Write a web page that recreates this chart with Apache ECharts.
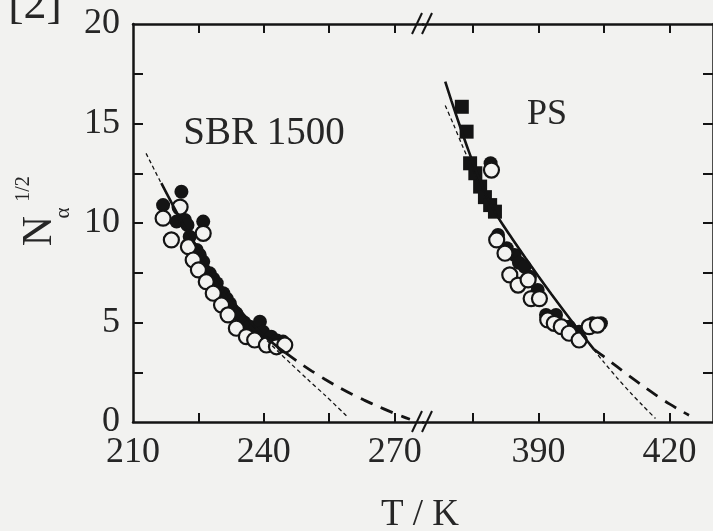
<!DOCTYPE html>
<html>
<head>
<meta charset="utf-8">
<script src="https://cdn.jsdelivr.net/npm/echarts@6/dist/echarts.min.js"></script>
<style>
  html, body { margin: 0; padding: 0; background: #f2f2f0; }
  #chart { width: 713px; height: 531px; }
</style>
</head>
<body>
<div id="chart"></div>
<script>
// ---- Data: T in K, N_alpha^(1/2) ----

// SBR 1500, open circles
const sbrOpenT = [216.9, 220.8, 226.1, 218.8, 222.7, 223.8, 225.0, 226.8, 228.4, 230.3, 231.8, 233.7, 236.0, 237.9, 240.6, 242.9, 244.8];
const sbrOpenN = [10.24, 10.8, 9.48, 9.15, 8.81, 8.14, 7.64, 7.05, 6.47, 5.88, 5.38, 4.71, 4.29, 4.12, 3.87, 3.78, 3.87];
// SBR 1500, filled circles
const sbrFilledT = [221.1, 216.9, 226.1, 220.0, 221.9, 222.5, 223.0, 224.6, 225.3, 226.1, 227.6, 228.4, 229.2, 230.7, 231.5, 232.2, 233.7, 234.9, 235.5, 236.8, 238.0, 239.1, 239.8, 241.7, 243.0, 244.4];
const sbrFilledN = [11.57, 10.9, 10.07, 10.07, 10.15, 9.9, 9.31, 8.64, 8.4, 8.06, 7.47, 7.2, 6.97, 6.47, 6.2, 5.96, 5.46, 5.04, 5.0, 4.79, 4.7, 5.04, 4.54, 4.29, 4.1, 4.04];

// PS, filled squares
const psSquareT = [372.4, 373.5, 374.3, 375.5, 376.6, 377.7, 378.9, 380.0];
const psSquareN = [15.84, 14.59, 13.0, 12.5, 11.83, 11.3, 10.9, 10.57];
// PS, open circles
const psOpenT = [379.2, 380.4, 382.3, 383.4, 385.3, 387.6, 388.3, 390.2, 392.1, 393.6, 395.2, 397.0, 399.3, 401.6, 403.5];
const psOpenN = [12.66, 9.15, 8.48, 7.39, 6.88, 7.14, 6.2, 6.2, 5.13, 4.96, 4.79, 4.46, 4.12, 4.79, 4.87];
// PS, filled circles
const psFilledT = [379.0, 380.7, 382.7, 384.5, 385.5, 386.8, 388.0, 389.8, 391.7, 394.0, 397.0, 399.3, 402.4, 404.3];
const psFilledN = [13.0, 9.4, 8.73, 8.39, 8.0, 7.8, 7.3, 6.63, 5.38, 5.38, 4.79, 4.54, 4.96, 4.96];

// Fitted curves (solid), thin short-dashed and long-dashed extrapolations
const sbrFitT = [216.5, 219, 222, 225, 228, 231, 234, 237, 240, 243, 245];
const sbrFitN = [12.0, 10.95, 9.75, 8.62, 7.58, 6.62, 5.76, 5.0, 4.35, 3.8, 3.47];
const sbrThinT = [213, 216, 219, 222, 225, 228, 231, 234, 237, 240, 243, 246, 250, 254, 259];
const sbrThinN = [13.5, 12.2, 10.95, 9.75, 8.62, 7.58, 6.62, 5.76, 4.98, 4.26, 3.6, 2.97, 2.15, 1.35, 0.3];
const sbrLongT = [245, 248, 251, 254, 257, 260, 263, 266, 269, 272, 273.5];
const sbrLongN = [3.47, 3.0, 2.56, 2.15, 1.77, 1.42, 1.1, 0.8, 0.52, 0.26, 0.14];

const psFitT = [368.6, 370, 372, 374, 376, 378, 380, 382, 384, 387, 390, 393, 396, 399, 402.7];
const psFitN = [17.1, 16.15, 14.85, 13.6, 12.45, 11.4, 10.55, 9.85, 9.2, 8.24, 7.31, 6.41, 5.53, 4.67, 3.65];
const psThinT = [368.6, 370.5, 372.4, 374.5, 376.5, 378.5, 380.5, 382, 384, 387, 390, 393, 396, 399, 402, 405, 408, 411, 414, 416.8];
const psThinN = [15.9, 14.95, 13.95, 12.9, 11.95, 11.1, 10.35, 9.82, 9.2, 8.24, 7.31, 6.41, 5.53, 4.67, 3.82, 3.0, 2.22, 1.49, 0.8, 0.18];
const psLongT = [402.7, 405, 408, 411, 414, 417, 420, 423, 424.5];
const psLongN = [3.65, 3.28, 2.78, 2.28, 1.8, 1.34, 0.91, 0.52, 0.34];

// Axis ranges and tick positions (broken temperature axis)
const leftRange = [210, 276.5];
const rightRange = [363.5, 430];
const leftTicks = [225, 240, 255, 270];
const leftLabels = [210, 240, 270];
const rightTicks = [375, 390, 405, 420];
const rightLabels = [390, 420];
const yRange = [0, 20];
const yTicks = [2.5, 5, 7.5, 10, 12.5, 15, 17.5];
const yLabels = [0, 5, 10, 15, 20];

// ---- Layout / style ----
const ink = '#141414';
const textInk = '#262626';
const paper = '#f2f2f0';
const serif = '"Liberation Serif", "DejaVu Serif", serif';
const plotTop = 24, plotBottom = 422;
const leftX0 = 133, breakX = 423, rightX1 = 715;

const pairs = (xs, ys) => xs.map((x, i) => [x, ys[i]]);

function xAxisDef(gridIndex, range, ticks, labels, top) {
  return {
    type: 'value', gridIndex, min: range[0], max: range[1],
    position: top ? 'top' : 'bottom',
    axisLine: { show: true, onZero: false, lineStyle: { color: ink, width: 2.5 } },
    axisTick: { show: true, inside: true, length: 9, customValues: ticks, lineStyle: { color: ink, width: 2 } },
    axisLabel: top ? { show: false } : {
      show: true, customValues: labels, color: textInk, fontFamily: serif, fontSize: 36, margin: 13
    },
    splitLine: { show: false }
  };
}

function yAxisDef(gridIndex, side, visible, withLabels) {
  return {
    type: 'value', gridIndex, min: yRange[0], max: yRange[1], position: side,
    axisLine: { show: visible, onZero: false, lineStyle: { color: ink, width: 2.5 } },
    axisTick: { show: visible, inside: true, length: 10, customValues: yTicks, lineStyle: { color: ink, width: 2 } },
    axisLabel: withLabels ? {
      show: true, customValues: yLabels, color: textInk, fontFamily: serif, fontSize: 36, margin: 13
    } : { show: false },
    splitLine: { show: false }
  };
}

function scatter(name, xi, yi, xs, ys, symbol, size, filled, z) {
  return {
    name, type: 'scatter', xAxisIndex: xi, yAxisIndex: yi,
    data: pairs(xs, ys), symbol, symbolSize: size, z,
    itemStyle: filled ? { color: ink, opacity: 1 }
                      : { color: paper, borderColor: ink, borderWidth: 2.2, opacity: 1 },
    emphasis: { disabled: true }
  };
}

function curve(name, xi, yi, xs, ys, width, dash) {
  return {
    name, type: 'line', xAxisIndex: xi, yAxisIndex: yi,
    data: pairs(xs, ys), smooth: 0.3, showSymbol: false, z: 10,
    lineStyle: { color: ink, width, type: dash || 'solid' },
    emphasis: { disabled: true }
  };
}

const chart = echarts.init(document.getElementById('chart'), null, { renderer: 'canvas' });

const breakMark = (y) => [
  { type: 'line', shape: { x1: breakX - 11, y1: y + 10, x2: breakX - 1, y2: y - 11 }, style: { stroke: ink, lineWidth: 2 }, z: 20 },
  { type: 'line', shape: { x1: breakX - 1, y1: y + 10, x2: breakX + 9, y2: y - 11 }, style: { stroke: ink, lineWidth: 2 }, z: 20 }
];

chart.setOption({
  backgroundColor: paper,
  animation: false,
  grid: [
    { left: leftX0, top: plotTop, width: breakX - leftX0, height: plotBottom - plotTop },
    { left: breakX, top: plotTop, width: rightX1 - breakX, height: plotBottom - plotTop }
  ],
  xAxis: [
    xAxisDef(0, leftRange, leftTicks, leftLabels, false),
    xAxisDef(0, leftRange, leftTicks, leftLabels, true),
    xAxisDef(1, rightRange, rightTicks, rightLabels, false),
    xAxisDef(1, rightRange, rightTicks, rightLabels, true)
  ],
  yAxis: [
    yAxisDef(0, 'left', true, true),
    yAxisDef(0, 'right', false, false),
    yAxisDef(1, 'left', false, false),
    yAxisDef(1, 'right', true, false)
  ],
  series: [
    scatter('SBR filled', 0, 0, sbrFilledT, sbrFilledN, 'circle', 14, true, 2),
    scatter('SBR open', 0, 0, sbrOpenT, sbrOpenN, 'circle', 15, false, 3),
    curve('SBR fit', 0, 0, sbrFitT, sbrFitN, 2.6),
    curve('SBR thin', 0, 0, sbrThinT, sbrThinN, 1.3, [4, 3]),
    curve('SBR long', 0, 0, sbrLongT, sbrLongN, 2.8, [13, 9]),
    scatter('PS filled', 2, 2, psFilledT, psFilledN, 'circle', 14, true, 2),
    scatter('PS open', 2, 2, psOpenT, psOpenN, 'circle', 15, false, 3),
    scatter('PS squares', 2, 2, psSquareT, psSquareN, 'rect', 14, true, 4),
    curve('PS fit', 2, 2, psFitT, psFitN, 2.6),
    curve('PS thin', 2, 2, psThinT, psThinN, 1.3, [4, 3]),
    curve('PS long', 2, 2, psLongT, psLongN, 2.8, [13, 9])
  ],
  graphic: [
    ...breakMark(plotTop),
    ...breakMark(plotBottom),
    { type: 'text', x: 264, y: 134, z: 20,
      style: { text: 'SBR 1500', fill: textInk, font: '39px ' + serif, align: 'center', verticalAlign: 'middle' } },
    { type: 'text', x: 547, y: 115, z: 20,
      style: { text: 'PS', fill: textInk, font: '36px ' + serif, align: 'center', verticalAlign: 'middle' } },
    { type: 'text', x: 420, y: 515, z: 20,
      style: { text: 'T / K', fill: textInk, font: '37px ' + serif, align: 'center', verticalAlign: 'middle' } },
    { type: 'text', x: 35, y: 6, z: 20,
      style: { text: '[2]', fill: textInk, font: '46px ' + serif, align: 'center', verticalAlign: 'middle' } },
    // rotated axis title N_alpha^(1/2)
    { type: 'text', x: 40, y: 231, rotation: Math.PI / 2, z: 20,
      style: { text: 'N', fill: textInk, font: '42px ' + serif, align: 'center', verticalAlign: 'middle' } },
    { type: 'text', x: 63, y: 213, rotation: Math.PI / 2, z: 20,
      style: { text: 'α', fill: textInk, font: '21px ' + serif, align: 'center', verticalAlign: 'middle' } },
    { type: 'text', x: 24, y: 189, rotation: Math.PI / 2, z: 20,
      style: { text: '1/2', fill: textInk, font: '20px ' + serif, align: 'center', verticalAlign: 'middle' } }
  ]
});
</script>
</body>
</html>
